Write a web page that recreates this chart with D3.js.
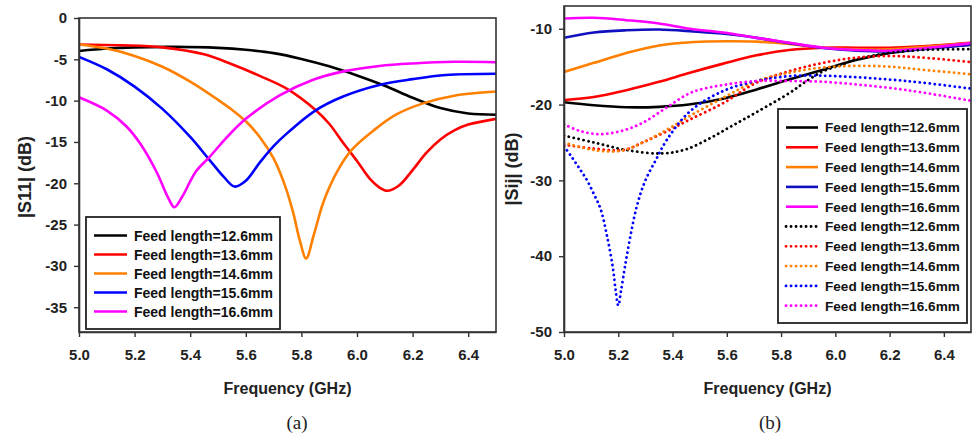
<!DOCTYPE html>
<html><head><meta charset="utf-8">
<script src="https://cdn.jsdelivr.net/npm/d3@7"></script>
<style>
body{margin:0;background:#fff}
svg{display:block}
text{font-family:"Liberation Sans",Arial,Helvetica,sans-serif}
</style>
</head><body>
<svg id="chart" width="974" height="438"></svg>
<script>
// ---------- data ----------
const legendLabels = ["Feed length=12.6mm","Feed length=13.6mm","Feed length=14.6mm","Feed length=15.6mm","Feed length=16.6mm"];
const xTicks = [5.0,5.2,5.4,5.6,5.8,6.0,6.2,6.4];
const yTicksA = [0,-5,-10,-15,-20,-25,-30,-35];
const yTicksB = [-10,-20,-30,-40,-50];

// (a) |S11| (dB)  [GHz, dB]
const s11_126 = [[5.0,-4.0],[5.1,-3.7],[5.2,-3.55],[5.35,-3.5],[5.5,-3.62],[5.6,-3.85],[5.7,-4.25],[5.8,-4.95],[5.9,-5.85],[6.0,-6.95],[6.1,-8.2],[6.2,-9.65],[6.3,-10.9],[6.4,-11.55],[6.5,-11.7]];
const s11_136 = [[5.0,-3.2],[5.15,-3.3],[5.3,-3.55],[5.45,-4.4],[5.55,-5.6],[5.65,-7.0],[5.75,-8.6],[5.85,-11.1],[5.9,-12.8],[5.95,-15.1],[6.0,-17.3],[6.05,-19.6],[6.08,-20.5],[6.108,-20.9],[6.15,-20.3],[6.2,-18.4],[6.25,-16.3],[6.3,-14.7],[6.35,-13.6],[6.4,-12.9],[6.5,-12.2]];
const s11_146 = [[5.0,-3.2],[5.1,-3.7],[5.2,-4.6],[5.3,-5.9],[5.4,-7.7],[5.5,-9.9],[5.55,-11.1],[5.6,-12.5],[5.65,-14.4],[5.7,-17.0],[5.74,-20.2],[5.77,-23.5],[5.795,-27.0],[5.817,-29.1],[5.845,-26.2],[5.88,-22.2],[5.93,-18.5],[5.98,-16.0],[6.06,-13.6],[6.14,-11.7],[6.24,-10.3],[6.35,-9.4],[6.5,-8.9]];
const s11_156 = [[5.0,-4.7],[5.1,-6.2],[5.2,-8.3],[5.3,-11.0],[5.4,-14.4],[5.47,-17.2],[5.52,-19.2],[5.56,-20.4],[5.6,-19.7],[5.65,-17.5],[5.7,-15.5],[5.75,-13.9],[5.85,-11.2],[5.95,-9.5],[6.08,-8.1],[6.2,-7.4],[6.32,-6.9],[6.5,-6.75]];
const s11_166 = [[5.0,-9.6],[5.1,-11.2],[5.17,-13.1],[5.22,-15.2],[5.28,-18.7],[5.32,-21.7],[5.343,-22.9],[5.37,-21.7],[5.42,-18.6],[5.47,-16.8],[5.53,-14.5],[5.6,-12.2],[5.72,-9.4],[5.84,-7.5],[5.96,-6.4],[6.08,-5.8],[6.2,-5.5],[6.35,-5.3],[6.5,-5.35]];

// (b) |Sij| (dB) solid
const sij_126 = [[5.0,-19.7],[5.11,-20.1],[5.23,-20.35],[5.35,-20.3],[5.46,-20.0],[5.59,-19.2],[5.71,-18.0],[5.83,-16.7],[5.955,-15.4],[6.08,-14.1],[6.2,-13.2],[6.32,-12.65],[6.5,-12.1]];
const sij_136 = [[5.0,-19.4],[5.11,-19.0],[5.23,-18.1],[5.35,-17.0],[5.464,-15.8],[5.587,-14.6],[5.71,-13.5],[5.83,-12.8],[5.955,-12.5],[6.08,-12.5],[6.2,-12.5],[6.32,-12.3],[6.5,-11.85]];
const sij_146 = [[5.0,-15.7],[5.11,-14.5],[5.23,-13.2],[5.35,-12.2],[5.48,-11.75],[5.6,-11.65],[5.71,-11.7],[5.83,-12.0],[5.955,-12.5],[6.08,-12.7],[6.2,-12.7],[6.32,-12.4],[6.5,-11.9]];
const sij_156 = [[5.0,-11.2],[5.11,-10.5],[5.23,-10.2],[5.35,-10.1],[5.476,-10.36],[5.6,-10.7],[5.71,-11.2],[5.83,-11.9],[5.955,-12.55],[6.08,-12.9],[6.2,-13.0],[6.32,-12.7],[6.5,-12.1]];
const sij_166 = [[5.0,-8.64],[5.11,-8.55],[5.23,-8.87],[5.35,-9.3],[5.464,-10.0],[5.587,-10.5],[5.71,-11.2],[5.83,-11.85],[5.955,-12.5],[6.08,-12.8],[6.2,-12.9],[6.32,-12.6],[6.5,-11.9]];

// (b) |Sij| (dB) dotted
const sijd_126 = [[5.0,-24.1],[5.11,-25.0],[5.23,-26.0],[5.36,-26.45],[5.45,-25.9],[5.54,-24.4],[5.62,-22.8],[5.71,-21.0],[5.83,-18.5],[5.89,-17.0],[5.955,-15.6],[6.02,-14.8],[6.08,-14.0],[6.2,-13.2],[6.32,-12.8],[6.5,-12.7]];
const sijd_136 = [[5.0,-25.3],[5.11,-25.8],[5.22,-26.0],[5.29,-25.0],[5.38,-23.5],[5.464,-21.97],[5.587,-19.8],[5.71,-17.1],[5.83,-15.6],[5.955,-14.5],[6.08,-13.8],[6.2,-13.6],[6.32,-13.8],[6.5,-14.4]];
const sijd_146 = [[5.0,-25.0],[5.11,-26.0],[5.21,-26.1],[5.29,-25.0],[5.38,-23.3],[5.464,-21.5],[5.587,-19.1],[5.71,-16.9],[5.83,-15.8],[5.955,-15.1],[6.08,-14.9],[6.2,-15.0],[6.32,-15.4],[6.5,-16.0]];
const sijd_156 = [[5.0,-25.5],[5.03,-27.0],[5.06,-28.6],[5.085,-30.0],[5.11,-31.8],[5.135,-33.8],[5.16,-37.6],[5.18,-41.5],[5.19,-44.4],[5.2,-46.5],[5.21,-44.6],[5.225,-41.3],[5.245,-37.3],[5.27,-33.2],[5.3,-30.0],[5.34,-27.2],[5.38,-24.6],[5.464,-20.9],[5.587,-18.2],[5.71,-16.9],[5.83,-16.25],[5.955,-16.2],[6.08,-16.4],[6.2,-16.7],[6.32,-17.1],[6.5,-17.9]];
const sijd_166 = [[5.0,-22.6],[5.06,-23.5],[5.13,-23.9],[5.21,-23.5],[5.29,-22.4],[5.378,-20.4],[5.47,-18.4],[5.59,-17.4],[5.71,-16.9],[5.83,-16.9],[5.955,-17.0],[6.08,-17.35],[6.2,-17.8],[6.32,-18.4],[6.5,-19.5]];

const coloursA = ["#000000","#ff0000","#ff8000","#0000ff","#ff00ff"];
const coloursB = ["#000000","#ff0000","#ff8000","#1010c0","#ff00ff"];
const coloursBdot = ["#000000","#ff0000","#ff8000","#0000ff","#ff00ff"];

// ---------- drawing ----------
const svg = d3.select("#chart");
const fontTick = "bold 15px 'Liberation Sans', Arial, sans-serif";

function panel(cfg){
  const x = d3.scaleLinear().domain([5.0,6.5]).range([cfg.x0,cfg.x1]);
  const y = d3.scaleLinear().domain(cfg.yDomain).range([cfg.y1,cfg.y0]);
  const g = svg.append("g");
  const clipId = "clip"+cfg.id;
  svg.append("clipPath").attr("id",clipId).append("rect")
    .attr("x",cfg.x0).attr("y",cfg.y0).attr("width",cfg.x1-cfg.x0).attr("height",cfg.y1-cfg.y0);

  const line = d3.line().x(d=>x(d[0])).y(d=>y(d[1])).curve(d3.curveCatmullRom.alpha(0.5));
  const cg = g.append("g").attr("clip-path",`url(#${clipId})`);
  cfg.series.forEach(s=>{
    cg.append("path").attr("d",line(s.data)).attr("fill","none")
      .attr("stroke",s.color).attr("stroke-width",s.dotted?2.8:2.6)
      .attr("stroke-linecap",s.dotted?"round":"butt")
      .attr("stroke-dasharray",s.dotted?"0.1 4.9":null);
  });

  // frame
  g.append("rect").attr("x",cfg.x0).attr("y",cfg.y0).attr("width",cfg.x1-cfg.x0).attr("height",cfg.y1-cfg.y0)
    .attr("fill","none").attr("stroke","#333").attr("stroke-width",1.6);

  const ax = g.append("g").attr("transform",`translate(0,${cfg.y1})`)
    .call(d3.axisBottom(x).tickValues(xTicks).tickFormat(d3.format(".1f")).tickSize(5).tickSizeOuter(0).tickPadding(12));
  const ay = g.append("g").attr("transform",`translate(${cfg.x0},0)`)
    .call(d3.axisLeft(y).tickValues(cfg.yTicks).tickFormat(d=>d3.format("d")(d).replace("−","-")).tickSize(5).tickSizeOuter(0).tickPadding(7));
  [ax,ay].forEach(a=>{
    a.select(".domain").attr("stroke","#333").attr("stroke-width",1.6);
    a.selectAll(".tick line").attr("stroke","#333").attr("stroke-width",1.4);
    a.selectAll("text").attr("fill","#222").style("font",fontTick);
  });

  // axis titles
  g.append("text").attr("x",(cfg.x0+cfg.x1)/2).attr("y",394).attr("text-anchor","middle")
    .style("font","bold 16px 'Liberation Sans', Arial, sans-serif").attr("fill","#222").text("Frequency (GHz)");
  g.append("text").attr("transform",`translate(${cfg.ytx},${cfg.yty}) rotate(-90)`).attr("text-anchor","middle")
    .attr("dy","0.35em").style("font","bold 18px 'Liberation Sans', Arial, sans-serif").attr("fill","#222").text(cfg.yTitle);
  g.append("text").attr("x",cfg.capX).attr("y",429).attr("text-anchor","middle")
    .style("font","19px 'Liberation Serif','Times New Roman',serif").attr("fill","#222").text(cfg.caption);

  // legend
  const L = cfg.legend;
  g.append("rect").attr("x",L.x).attr("y",L.y).attr("width",L.w).attr("height",L.h)
    .attr("fill","#fff").attr("stroke","#222").attr("stroke-width",1.8);
  cfg.series.forEach((s,i)=>{
    const yy = L.y + L.first + i*L.step;
    g.append("line").attr("x1",L.x+8).attr("x2",L.x+8+L.lineLen).attr("y1",yy).attr("y2",yy)
      .attr("stroke",s.color).attr("stroke-width",s.dotted?2.8:2.6)
      .attr("stroke-linecap",s.dotted?"round":"butt")
      .attr("stroke-dasharray",s.dotted?"0.1 4.9":null);
    g.append("text").attr("x",L.x+L.textOff).attr("y",yy).attr("dy","0.36em")
      .style("font",`bold ${L.font}px 'Liberation Sans', Arial, sans-serif`).attr("fill","#111").text(s.label);
  });
}

const seriesA = [s11_126,s11_136,s11_146,s11_156,s11_166].map((d,i)=>({data:d,color:coloursA[i],label:legendLabels[i],dotted:false}));
const solidB = [sij_126,sij_136,sij_146,sij_156,sij_166].map((d,i)=>({data:d,color:coloursB[i],label:legendLabels[i],dotted:false}));
const dotB = [sijd_126,sijd_136,sijd_146,sijd_156,sijd_166].map((d,i)=>({data:d,color:coloursBdot[i],label:legendLabels[i],dotted:true}));

panel({id:"a",x0:79,x1:496,y0:18,y1:332,yDomain:[-38,0],yTicks:yTicksA,series:seriesA,
  yTitle:"|S11| (dB)",ytx:25,yty:177,caption:"(a)",capX:297,
  legend:{x:86,y:217,w:194,h:112,first:18.5,step:19,lineLen:33,textOff:48,font:14}});
panel({id:"b",x0:564,x1:971,y0:6,y1:332,yDomain:[-50,-7],yTicks:yTicksB,series:solidB.concat(dotB),
  yTitle:"|Sij| (dB)",ytx:512,yty:169,caption:"(b)",capX:770,
  legend:{x:778,y:109,w:189,h:214,first:18.5,step:19.8,lineLen:32,textOff:47,font:13.6}});
</script>
</body></html>
